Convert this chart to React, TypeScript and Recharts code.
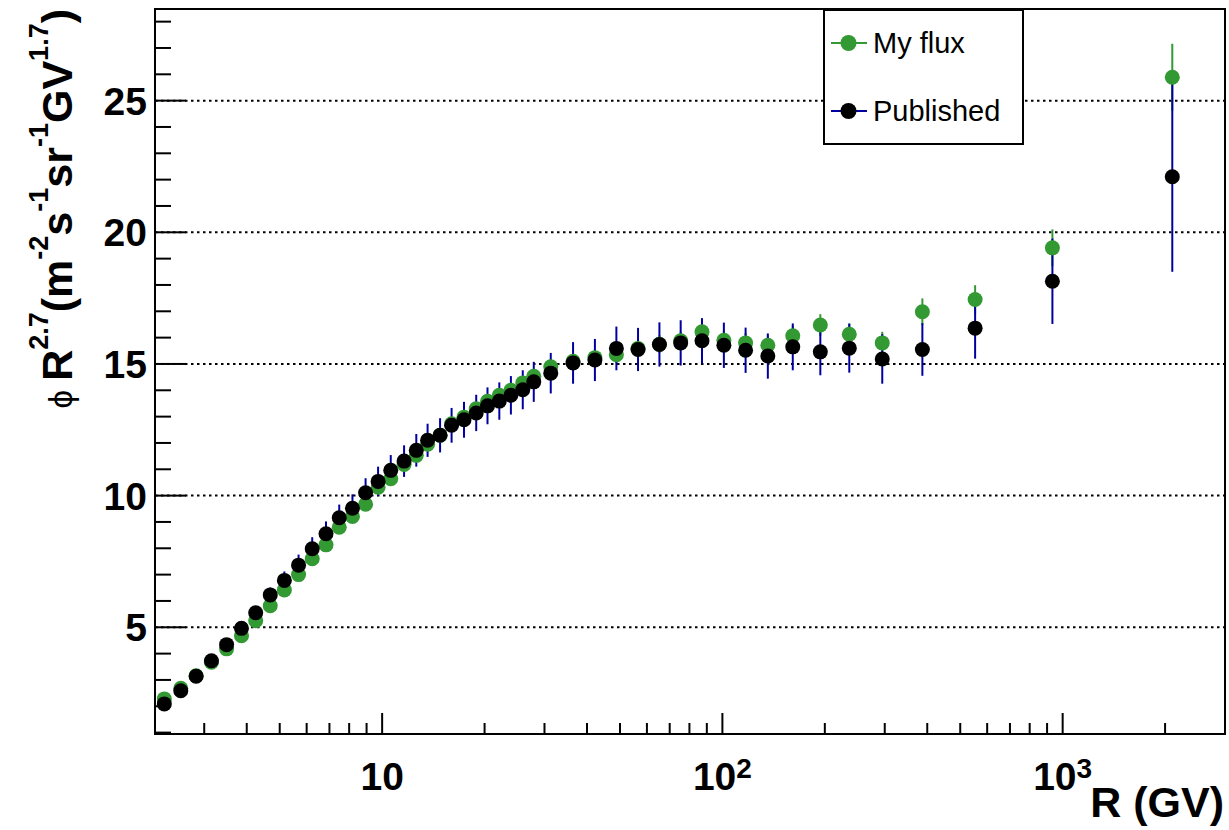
import React from "react";
import {
  ScatterChart,
  Scatter,
  XAxis,
  YAxis,
  ErrorBar,
  ReferenceLine,
  ReferenceArea,
  Legend,
} from "recharts";

// rigidity bin centres (GV)
const rigidity = [
  2.29, 2.56, 2.84, 3.15, 3.49, 3.86, 4.25, 4.69, 5.16, 5.68, 6.23, 6.84,
  7.48, 8.18, 8.94, 9.73, 10.6, 11.6, 12.6, 13.6, 14.8, 16.0, 17.4, 18.9,
  20.4, 22.1, 23.9, 25.9, 27.9, 31.3, 36.4, 42.2, 48.8, 56.5, 65.3, 75.4,
  87.1, 101, 117, 136, 161, 194, 236, 295, 387, 553, 933, 2100,
];

const myFlux = [
  2.28, 2.68, 3.16, 3.67, 4.18, 4.68, 5.25, 5.82, 6.42, 7.0, 7.6, 8.13,
  8.8, 9.21, 9.67, 10.32, 10.64, 11.18, 11.53, 11.95, 12.29, 12.73, 12.98, 13.3,
  13.58, 13.81, 14.0, 14.28, 14.53, 14.89, 15.1, 15.24, 15.35, 15.59, 15.75, 15.88,
  16.22, 15.9, 15.8, 15.71, 16.07, 16.48, 16.13, 15.8, 16.98, 17.45, 19.41, 25.89,
];

const myFluxErr = [
  0.03, 0.03, 0.04, 0.04, 0.05, 0.05, 0.06, 0.07, 0.08, 0.09, 0.1, 0.11,
  0.12, 0.13, 0.14, 0.15, 0.16, 0.17, 0.18, 0.19, 0.2, 0.21, 0.22, 0.23,
  0.24, 0.25, 0.26, 0.27, 0.28, 0.29, 0.3, 0.31, 0.32, 0.33, 0.34, 0.35,
  0.36, 0.36, 0.37, 0.38, 0.39, 0.41, 0.41, 0.42, 0.51, 0.54, 0.7, 1.27,
];

const published = [
  2.09, 2.59, 3.14, 3.73, 4.34, 4.96, 5.55, 6.23, 6.78, 7.36, 7.98, 8.55,
  9.16, 9.52, 10.11, 10.54, 10.96, 11.31, 11.72, 12.1, 12.29, 12.67, 12.88, 13.14,
  13.41, 13.59, 13.81, 14.02, 14.32, 14.65, 15.04, 15.15, 15.59, 15.55, 15.74, 15.8,
  15.88, 15.71, 15.52, 15.3, 15.65, 15.46, 15.6, 15.19, 15.55, 16.36, 18.14, 22.11,
];

const publishedErr = [
  0.08, 0.09, 0.1, 0.12, 0.15, 0.18, 0.22, 0.28, 0.34, 0.4, 0.44, 0.47,
  0.5, 0.53, 0.55, 0.56, 0.58, 0.6, 0.62, 0.63, 0.65, 0.66, 0.68, 0.69,
  0.7, 0.71, 0.73, 0.74, 0.76, 0.77, 0.79, 0.8, 0.83, 0.82, 0.84, 0.86,
  0.86, 0.86, 0.86, 0.86, 0.89, 0.89, 0.93, 0.94, 1.0, 1.16, 1.62, 3.61,
];

const xTicks = [
  3, 4, 5, 6, 7, 8, 9, 10, 20, 30, 40, 50, 60, 70, 80, 90, 100, 200, 300, 400,
  500, 600, 700, 800, 900, 1000, 2000,
];
const xLabelValues = [10, 100, 1000];
const xLabelBase = ["10", "10", "10"];
const xLabelExp = ["", "2", "3"];

const yTicks = [
  1, 2, 3, 4, 5, 6, 7, 8, 9, 10, 11, 12, 13, 14, 15, 16, 17, 18, 19, 20, 21,
  22, 23, 24, 25, 26, 27, 28,
];
const yLabelValues = [5, 10, 15, 20, 25];

const X_DOMAIN = [2.15, 3000];
const Y_DOMAIN = [0.947, 28.48];
const FONT = "'Liberation Sans', Arial, Helvetica, sans-serif";
const GREEN = "#339933";
const NAVY = "#0000a0";

const mine = rigidity.map((r, i) => ({ r, v: myFlux[i], e: myFluxErr[i] }));
const pub = rigidity.map((r, i) => ({ r, v: published[i], e: publishedErr[i] }));

const seriesStyle: Record<string, { dot: string; line: string }> = {
  "My flux": { dot: GREEN, line: GREEN },
  Published: { dot: "#000", line: NAVY },
};

function XTick({ x, y, payload }: any) {
  const idx = xLabelValues.indexOf(payload.value);
  const major = idx >= 0;
  return (
    <g>
      <line x1={x} x2={x} y1={y} y2={y - (major ? 21 : 11)} stroke="#000" strokeWidth={2} />
      {major && (
        <text x={x} y={y + 56} textAnchor="middle" fontFamily={FONT} fontWeight="bold" fontSize={39} fill="#000">
          <tspan>{xLabelBase[idx]}</tspan>
          {xLabelExp[idx] && (
            <tspan dy={-12} fontSize={28}>
              {xLabelExp[idx]}
            </tspan>
          )}
        </text>
      )}
    </g>
  );
}

function YTick({ x, y, payload }: any) {
  const major = yLabelValues.includes(payload.value);
  return (
    <g>
      <line x1={x} x2={x + (major ? 31 : 16)} y1={y} y2={y} stroke="#000" strokeWidth={2} />
      {major && (
        <text x={x - 8} y={y + 14} textAnchor="end" fontFamily={FONT} fontWeight="bold" fontSize={39} fill="#000">
          {payload.value}
        </text>
      )}
    </g>
  );
}

function YTitle() {
  return (
    <text
      transform="rotate(-90 72 9)"
      x={72}
      y={9}
      textAnchor="end"
      fontFamily={FONT}
      fontWeight="bold"
      fontSize={43}
      fill="#000"
    >
      <tspan fontWeight="normal" fontSize={33}>ϕ </tspan>
      <tspan>R</tspan>
      <tspan dy={-24} fontSize={27}>2.7</tspan>
      <tspan dy={24}>(m</tspan>
      <tspan dy={-24} fontSize={27}>-2</tspan>
      <tspan dy={24}>s</tspan>
      <tspan dy={-24} fontSize={27}>-1</tspan>
      <tspan dy={24}>sr</tspan>
      <tspan dy={-24} fontSize={27}>-1</tspan>
      <tspan dy={24}>GV</tspan>
      <tspan dy={-24} fontSize={27}>1.7</tspan>
      <tspan dy={24}>)</tspan>
    </text>
  );
}

function XTitle({ viewBox }: any) {
  const right = viewBox ? viewBox.x + viewBox.width : 1225;
  return (
    <text x={right - 1} y={817} textAnchor="end" fontFamily={FONT} fontWeight="bold" fontSize={43} fill="#000">
      R (GV)
    </text>
  );
}

function LegendBox({ payload }: any) {
  const rows = (payload || []).map((p: any) => p.value);
  return (
    <svg width={201} height={136} style={{ display: "block" }}>
      <rect x={1} y={1} width={199} height={134} fill="#fff" stroke="#000" strokeWidth={2} />
      {rows.map((name: string, i: number) => {
        const cy = i === 0 ? 34 : 102;
        const st = seriesStyle[name] || { dot: "#000", line: "#000" };
        return (
          <g key={name}>
            <line x1={8} x2={44} y1={cy} y2={cy} stroke={st.line} strokeWidth={2} />
            <circle cx={25.5} cy={cy} r={8} fill={st.dot} />
            <text x={50} y={cy + 10} fontFamily={FONT} fontSize={29} fill="#000">
              {name}
            </text>
          </g>
        );
      })}
    </svg>
  );
}

const dotShape = (color: string) => (props: any) =>
  <circle cx={props.cx} cy={props.cy} r={7.5} fill={color} />;

export default function App() {
  return (
    <div style={{ position: "absolute", left: 0, top: 0, width: 1229, height: 830, background: "#fff" }}>
      <ScatterChart width={1229} height={830} margin={{ top: 9, right: 4, bottom: 0, left: 0 }}>
        <XAxis
          type="number"
          dataKey="r"
          scale="log"
          domain={X_DOMAIN}
          allowDataOverflow
          ticks={xTicks}
          interval={0}
          height={96}
          tickSize={0}
          tickMargin={0}
          tickLine={false}
          axisLine={{ stroke: "#000", strokeWidth: 2 }}
          tick={<XTick />}
          label={<XTitle />}
        />
        <YAxis
          type="number"
          dataKey="v"
          domain={Y_DOMAIN}
          allowDataOverflow
          ticks={yTicks}
          interval={0}
          width={155}
          tickSize={0}
          tickMargin={0}
          tickLine={false}
          axisLine={{ stroke: "#000", strokeWidth: 2 }}
          tick={<YTick />}
          label={<YTitle />}
        />
        {yLabelValues.map((v) => (
          <ReferenceLine key={v} y={v} stroke="#000" strokeWidth={2} strokeDasharray="2.5 3.5" />
        ))}
        <ReferenceArea
          x1={X_DOMAIN[0]}
          x2={X_DOMAIN[1]}
          y1={Y_DOMAIN[0]}
          y2={Y_DOMAIN[1]}
          fill="none"
          fillOpacity={0}
          stroke="#000"
          strokeWidth={2}
        />
        <Scatter name="My flux" data={mine} fill={GREEN} shape={dotShape(GREEN)} isAnimationActive={false}>
          <ErrorBar dataKey="e" direction="y" width={0} stroke={GREEN} strokeWidth={2} />
        </Scatter>
        <Scatter name="Published" data={pub} fill="#000" shape={dotShape("#000")} isAnimationActive={false}>
          <ErrorBar dataKey="e" direction="y" width={0} stroke={NAVY} strokeWidth={2} />
        </Scatter>
        <Legend
          verticalAlign="middle"
          align="center"
          content={<LegendBox />}
          wrapperStyle={{ left: 823, top: 9, width: 201, height: 136 }}
        />
      </ScatterChart>
    </div>
  );
}
